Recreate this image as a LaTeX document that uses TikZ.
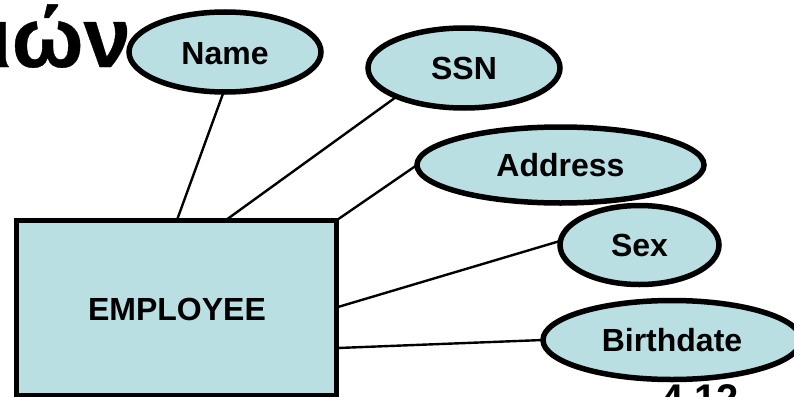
\documentclass[tikz,border=0pt]{standalone}
\usepackage{fontspec}
\setmainfont{Liberation Sans}
\newfontfamily\titlefont[FakeBold=0.4]{Liberation Sans Bold}
\usetikzlibrary{shapes.geometric}
\definecolor{fillc}{HTML}{B9DFE3}
\tikzset{
  attr/.style={ellipse,draw=black,line width=5.5pt,fill=fillc,inner sep=0pt,outer sep=0pt,font=\fontsize{32}{33}\selectfont\bfseries},
  entity/.style={rectangle,draw=black,line width=5pt,fill=fillc,inner sep=0pt,outer sep=0pt,minimum width=320pt,minimum height=175.5pt},
  link/.style={draw=black,line width=2.4pt},
  bigtext/.style={inner sep=0pt}
}
\begin{document}
\begin{tikzpicture}[x=1pt,y=-1pt]
\useasboundingbox (0,0) rectangle (794,396);
\clip (0,0) rectangle (794,396);
\node[bigtext,anchor=base east,font=\fontsize{85}{85}\titlefont] (title) at (131,67) {ιών};
\node[bigtext,anchor=base,font=\fontsize{40}{40}\selectfont\bfseries] (page) at (700,412) {4.12};
\node[entity] (emp) at (176.5,307.75) {};
\node[font=\fontsize{32}{34}\selectfont\bfseries] (emplabel) at (177,309.5) {EMPLOYEE};
\node[attr,minimum width=192pt,minimum height=80pt] (name) at (225,52) {\raisebox{-2pt}[\height][\depth]{Name}};
\node[attr,minimum width=192pt,minimum height=80pt] (ssn) at (464,68) {SSN};
\node[attr,minimum width=287pt,minimum height=76pt] (addr) at (560.5,165) {Address};
\node[attr,minimum width=159pt,minimum height=79pt] (sex) at (639.5,245) {Sex};
\node[attr,minimum width=258pt,minimum height=79pt] (birth) at (672,340) {Birthdate};
\coordinate (e1) at (177,220);
\coordinate (e2) at (226,220);
\coordinate (e3) at (337,220);
\coordinate (e4) at (338,307);
\coordinate (e5) at (338,348);
\draw[link] (name.-92) -- (e1);
\draw[link] (ssn.203) -- (e2);
\draw[link] (addr.180) -- (e3);
\draw[link] (sex.177) -- (e4);
\draw[link] (birth.180) -- (e5);
\end{tikzpicture}
\end{document}
